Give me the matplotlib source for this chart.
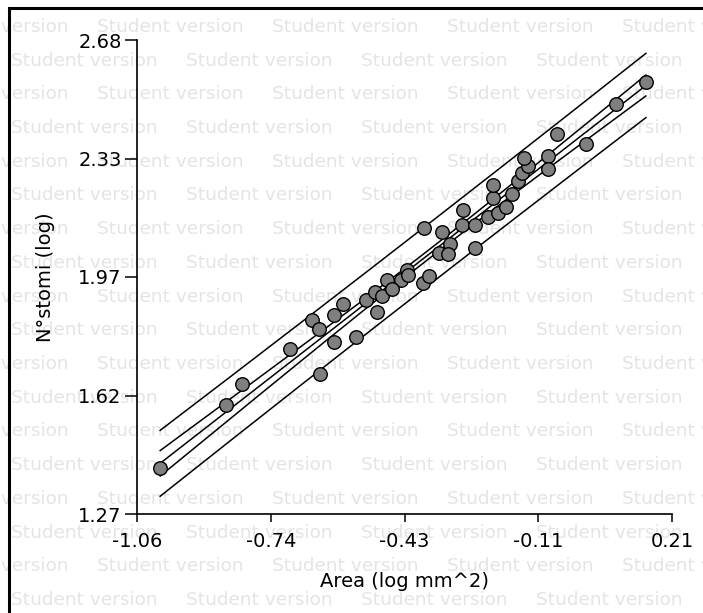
import numpy as np
import matplotlib
matplotlib.use("Agg")
import matplotlib.pyplot as plt
from matplotlib.patches import Rectangle

# log leaf area (mm^2) vs log number of stomata
area_log = [-1.005, -0.849, -0.811, -0.697, -0.645, -0.628, -0.626, -0.592, -0.592, -0.570,
            -0.540, -0.516, -0.494, -0.490, -0.478, -0.467, -0.433, -0.419, -0.380, -0.366,
            -0.379, -0.337, -0.344, -0.317, -0.321, -0.286, -0.289, -0.258, -0.258, -0.226,
            -0.202, -0.183, -0.214, -0.171, -0.214, -0.155, -0.147, -0.131, -0.141, -0.085,
            -0.084, -0.062, 0.006, 0.077, 0.148, -0.416, -0.454]
stomi_log = [1.407, 1.594, 1.657, 1.762, 1.847, 1.820, 1.685, 1.863, 1.782, 1.895,
             1.797, 1.907, 1.930, 1.870, 1.918, 1.965, 1.966, 1.996, 1.956, 1.979,
             2.120, 2.110, 2.046, 2.073, 2.043, 2.173, 2.130, 2.130, 2.060, 2.154,
             2.164, 2.184, 2.211, 2.222, 2.249, 2.261, 2.283, 2.304, 2.329, 2.334,
             2.296, 2.400, 2.370, 2.490, 2.554, 1.982, 1.940]

x_ticks = [-1.06, -0.7425, -0.425, -0.1075, 0.21]
x_labels = ["-1.06", "-0.74", "-0.43", "-0.11", "0.21"]
y_ticks = [1.27, 1.6225, 1.975, 2.3275, 2.68]
y_labels = ["1.27", "1.62", "1.97", "2.33", "2.68"]

plt.rcParams['font.family'] = ['DejaVu Sans']

fig = plt.figure(figsize=(7.03, 6.13), dpi=100)
W, H = 703.0, 613.0

# "Student version" watermark over the whole figure, behind everything
for k in range(19):
    yy = 1 - (27 + 33.7 * k) / H
    x0 = -78.0 if k % 2 == 0 else 11.0
    for j in range(6):
        fig.text((x0 + 175 * j) / W, yy, "Student version", fontsize=13.3,
                 color='#e4e4e4', va='center', ha='left', zorder=-5)

# frame around the figure
fig.patches.append(Rectangle((8.5 / W, -0.1), 1.2, 1 - 8.5 / H + 0.1, transform=fig.transFigure,
                             fill=False, edgecolor='black', linewidth=2.2, zorder=-4))

ax = fig.add_axes([137 / W, 1 - 514 / H, (672 - 137) / W, (514 - 40) / H])
ax.patch.set_alpha(0)

x = np.array(area_log)
y = np.array(stomi_log)
n = len(x)
slope, intercept = np.polyfit(x, y, 1)
resid = y - (intercept + slope * x)
s = np.sqrt(np.sum(resid ** 2) / (n - 2))
sxx = np.sum((x - x.mean()) ** 2)
t = 2.014
xs = np.linspace(x.min(), x.max(), 200)
ys = intercept + slope * xs
h = 1.0 / n + (xs - x.mean()) ** 2 / sxx
ci = t * s * np.sqrt(h)
pi = t * s * np.sqrt(1 + h)

lw = 1.1
ax.plot(xs, ys, color='black', lw=lw, zorder=2)
ax.plot(xs, ys + ci, color='black', lw=lw, zorder=2)
ax.plot(xs, ys - ci, color='black', lw=lw, zorder=2)
ax.plot(xs, ys + pi, color='black', lw=lw, zorder=2)
ax.plot(xs, ys - pi, color='black', lw=lw, zorder=2)

ax.scatter(x, y, s=95, c='#7f7f7f', edgecolors='black', linewidths=1.0, zorder=3)

ax.set_xlim(-1.06, 0.21)
ax.set_ylim(1.27, 2.68)
ax.set_xticks(x_ticks)
ax.set_xticklabels(x_labels)
ax.set_yticks(y_ticks)
ax.set_yticklabels(y_labels)
ax.tick_params(axis='both', direction='out', width=1.1, labelsize=14)
ax.tick_params(axis='x', length=6, pad=7)
ax.tick_params(axis='y', length=8.5, pad=2.5)
for side in ['top', 'right']:
    ax.spines[side].set_visible(False)
for side in ['left', 'bottom']:
    ax.spines[side].set_linewidth(1.2)

ax.set_xlabel("Area (log mm^2)", fontsize=14, labelpad=15)
ax.set_ylabel("N°stomi (log)", fontsize=14, labelpad=17)

fig.savefig("out.png", dpi=100)
